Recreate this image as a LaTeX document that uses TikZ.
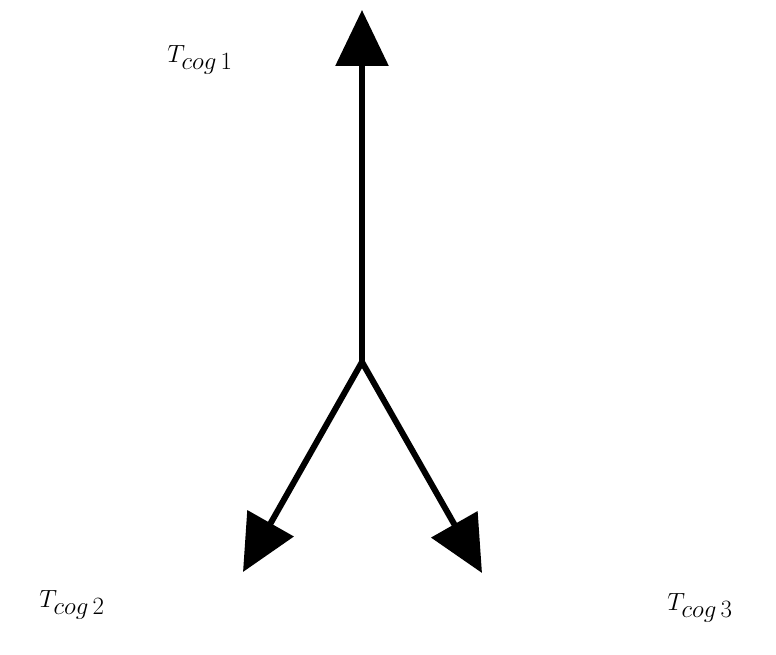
\documentclass[tikz,border=0pt]{standalone}
\usetikzlibrary{arrows.meta}
\begin{document}
\begin{tikzpicture}[x=1pt,y=-1pt,
  vec/.style={line width=6pt,-{Triangle[length=56pt,width=52pt]}},
  lab/.style={font=\fontsize{54}{60}\selectfont}]
\useasboundingbox (0,0) rectangle (776,655);
\coordinate (c) at (362,362);
\coordinate (t1) at (362,10);
\coordinate (t2) at (243,572);
\coordinate (t3) at (482,573);
\draw[vec] (c) -- (t1);
\draw[vec] (c) -- (t2);
\draw[vec] (c) -- (t3);
\node[lab] (l1) at (200,60) {$T_{cog\,1}$};
\node[lab] (l2) at (72,605) {$T_{cog\,2}$};
\node[lab] (l3) at (700,608) {$T_{cog\,3}$};
\end{tikzpicture}
\end{document}
